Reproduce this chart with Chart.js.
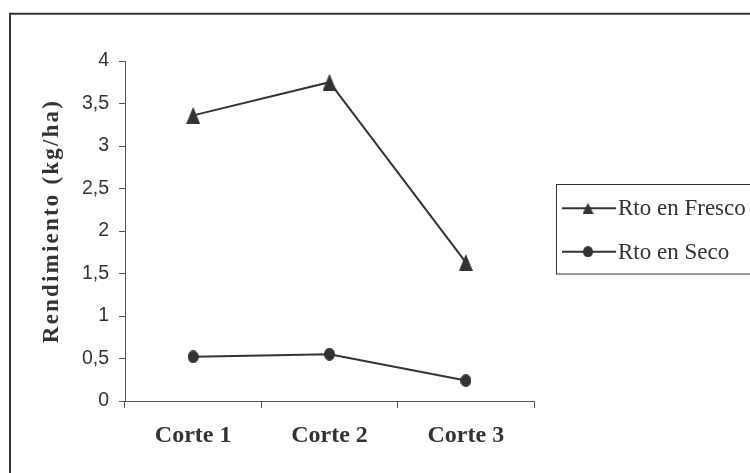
<!DOCTYPE html>
<html>
<head>
<meta charset="utf-8">
<script src="https://cdn.jsdelivr.net/npm/chart.js@4/dist/chart.umd.min.js"></script>
<style>
  html, body { margin: 0; padding: 0; background: #fff; }
  #wrap { position: relative; width: 750px; height: 473px; }
</style>
</head>
<body>
<div id="wrap"><canvas id="c"></canvas></div>
<script>
// Cortes evaluados
const categories = ['Corte 1', 'Corte 2', 'Corte 3'];
// Rendimiento (kg/ha) por corte
const rtoFresco = [3.36, 3.75, 1.63];
const rtoSeco = [0.52, 0.55, 0.24];
// Etiquetas del eje Y (coma decimal)
const yTickLabels = ['0', '0,5', '1', '1,5', '2', '2,5', '3', '3,5', '4'];
const yTitle = 'Rendimiento (kg/ha)';

const INK = '#333333';

// Marcadores: triángulo y círculo algo achatados
function triangleMarker(w, h) {
  const cv = document.createElement('canvas');
  cv.width = w; cv.height = h;
  const g = cv.getContext('2d');
  g.fillStyle = INK;
  g.beginPath();
  g.moveTo(w / 2, 0);
  g.lineTo(w, h);
  g.lineTo(0, h);
  g.closePath();
  g.fill();
  return cv;
}
function circleMarker(w, h) {
  const cv = document.createElement('canvas');
  cv.width = w; cv.height = h;
  const g = cv.getContext('2d');
  g.fillStyle = INK;
  g.beginPath();
  g.ellipse(w / 2, h / 2, w / 2, h / 2, 0, 0, Math.PI * 2);
  g.fill();
  return cv;
}

const triPlot = triangleMarker(14, 17);
const circPlot = circleMarker(11, 13);
const triLegend = triangleMarker(11, 11);
const circLegend = circleMarker(10, 11);

// Marco exterior (solo borde superior e izquierdo visibles)
const framePlugin = {
  id: 'frame',
  beforeDraw(chart) {
    const ctx = chart.ctx;
    ctx.save();
    ctx.fillStyle = '#fff';
    ctx.fillRect(0, 0, chart.width, chart.height);
    ctx.strokeStyle = INK;
    ctx.lineWidth = 2;
    ctx.beginPath();
    ctx.moveTo(10, chart.height + 2);
    ctx.lineTo(10, 13.7);
    ctx.lineTo(chart.width + 2, 13.7);
    ctx.stroke();
    ctx.restore();
  }
};

// Título del eje Y con espaciado entre letras
const yTitlePlugin = {
  id: 'yTitle',
  afterDraw(chart) {
    const ctx = chart.ctx;
    const area = chart.chartArea;
    ctx.save();
    ctx.translate(52, (area.top + area.bottom) / 2 - 10);
    ctx.rotate(-Math.PI / 2);
    ctx.font = 'bold 23px "Liberation Serif", "Times New Roman", serif';
    ctx.letterSpacing = '2.2px';
    ctx.fillStyle = INK;
    ctx.textAlign = 'center';
    ctx.textBaseline = 'middle';
    ctx.fillText(yTitle, 0, 0);
    ctx.restore();
  }
};

// Leyenda con línea y marcador
const legendPlugin = {
  id: 'lineLegend',
  afterDraw(chart) {
    const ctx = chart.ctx;
    const box = { x: 556.5, y: 184.5, w: 210, h: 89.5 };
    const rows = [208.3, 251.7];
    const markers = [triLegend, circLegend];
    ctx.save();
    ctx.strokeStyle = INK;
    ctx.lineWidth = 1;
    ctx.strokeRect(box.x, box.y, box.w, box.h);
    chart.data.datasets.forEach((ds, i) => {
      const y = rows[i];
      ctx.strokeStyle = ds.borderColor;
      ctx.lineWidth = 2;
      ctx.beginPath();
      ctx.moveTo(562, y);
      ctx.lineTo(616, y);
      ctx.stroke();
      const m = markers[i];
      ctx.drawImage(m, 588 - m.width / 2, y - m.height / 2);
      ctx.font = '23px "Liberation Serif", "Times New Roman", serif';
      ctx.fillStyle = INK;
      ctx.textAlign = 'left';
      ctx.textBaseline = 'alphabetic';
      ctx.fillText(ds.label, 618, y + 7);
    });
    ctx.restore();
  }
};

new Chart(document.getElementById('c'), {
  type: 'line',
  data: {
    labels: categories,
    datasets: [
      {
        label: 'Rto en Fresco',
        data: rtoFresco,
        borderColor: INK,
        backgroundColor: INK,
        borderWidth: 2,
        pointStyle: triPlot,
        tension: 0,
        fill: false
      },
      {
        label: 'Rto en Seco',
        data: rtoSeco,
        borderColor: INK,
        backgroundColor: INK,
        borderWidth: 2,
        pointStyle: circPlot,
        tension: 0,
        fill: false
      }
    ]
  },
  options: {
    responsive: true,
    maintainAspectRatio: false,
    animation: false,
    events: [],
    layout: { padding: { top: 61, right: 216, left: 0, bottom: 0 } },
    plugins: {
      legend: { display: false },
      tooltip: { enabled: false },
      title: { display: false }
    },
    scales: {
      x: {
        type: 'category',
        offset: true,
        grid: {
          offset: true,
          drawOnChartArea: false,
          drawTicks: true,
          tickLength: 7,
          color: '#555',
          lineWidth: 1
        },
        border: { display: true, color: '#555', width: 1 },
        ticks: {
          color: INK,
          padding: 13,
          maxRotation: 0,
          font: { family: '"Liberation Serif", "Times New Roman", serif', size: 24, weight: 'bold' }
        },
        afterFit(scale) { scale.height = 72; }
      },
      y: {
        min: 0,
        max: 4,
        grid: {
          drawOnChartArea: false,
          drawTicks: true,
          tickLength: 6,
          color: '#555',
          lineWidth: 1
        },
        border: { display: true, color: '#555', width: 1 },
        ticks: {
          stepSize: 0.5,
          color: INK,
          padding: 10,
          font: { family: '"Liberation Sans", Arial, sans-serif', size: 19.5 },
          callback: (v, i) => yTickLabels[i]
        },
        afterFit(scale) { scale.width = 125; }
      }
    }
  },
  plugins: [framePlugin, yTitlePlugin, legendPlugin]
});
</script>
</body>
</html>
